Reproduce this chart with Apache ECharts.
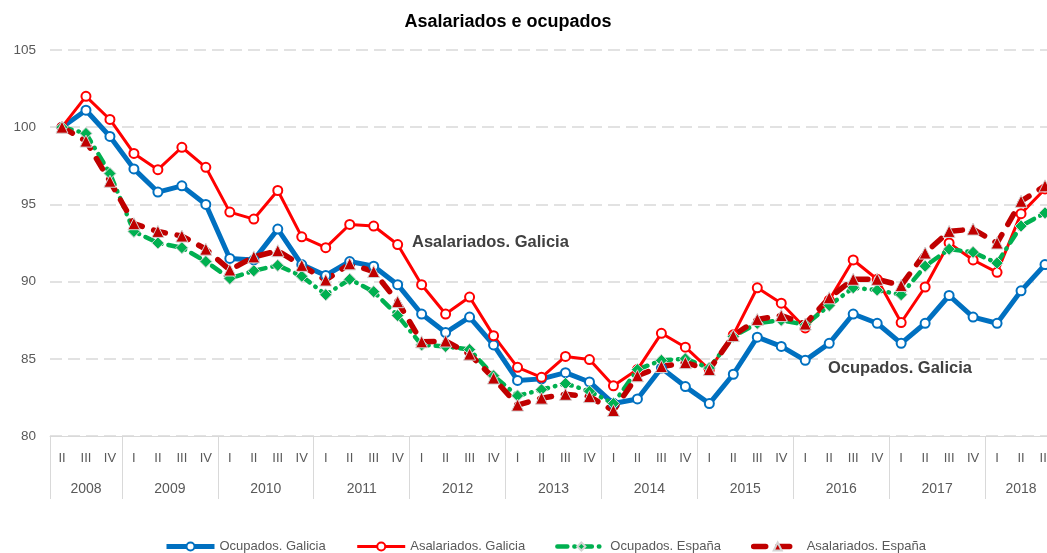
<!DOCTYPE html>
<html>
<head>
<meta charset="utf-8">
<script src="https://cdn.jsdelivr.net/npm/echarts@6/dist/echarts.min.js"></script>
<style>
html,body{margin:0;padding:0;background:#fff;}
#chart{width:1047px;height:553px;}
</style>
</head>
<body>
<div id="chart"></div>
<script>
// ---- Data ----
const quarters = ['II','III','IV',
  'I','II','III','IV', 'I','II','III','IV', 'I','II','III','IV',
  'I','II','III','IV', 'I','II','III','IV', 'I','II','III','IV',
  'I','II','III','IV', 'I','II','III','IV', 'I','II','III','IV',
  'I','II','III'];
const years = ['2008','2009','2010','2011','2012','2013','2014','2015','2016','2017','2018'];

const ocupadosGalicia = [100, 101.1, 99.4, 97.3, 95.8, 96.2, 95.0, 91.5, 91.4, 93.4, 91.1, 90.4, 91.3, 91.0, 89.8, 87.9, 86.7, 87.7, 85.9, 83.6, 83.7, 84.1, 83.5, 82.1, 82.4, 84.4, 83.2, 82.1, 84.0, 86.4, 85.8, 84.9, 86.0, 87.9, 87.3, 86.0, 87.3, 89.1, 87.7, 87.3, 89.4, 91.1];
const asalariadosGalicia = [100, 102.0, 100.5, 98.3, 97.25, 98.7, 97.4, 94.5, 94.05, 95.9, 92.9, 92.2, 93.7, 93.6, 92.4, 89.8, 87.9, 89.0, 86.5, 84.45, 83.8, 85.15, 84.95, 83.25, 84.3, 86.65, 85.75, 84.3, 86.55, 89.6, 88.6, 87.0, 88.8, 91.4, 90.15, 87.35, 89.65, 92.5, 91.4, 90.6, 94.4, 96.0];
const ocupadosEspana = [100, 99.6, 97.0, 93.25, 92.5, 92.2, 91.3, 90.2, 90.7, 91.05, 90.35, 89.15, 90.15, 89.35, 87.8, 85.9, 85.8, 85.6, 83.9, 82.6, 83.0, 83.4, 82.9, 82.1, 84.3, 84.9, 85.0, 84.4, 86.45, 87.3, 87.5, 87.2, 88.45, 89.6, 89.45, 89.15, 91.0, 92.1, 91.9, 91.2, 93.6, 94.45];
const asalariadosEspana = [100, 99.1, 96.5, 93.75, 93.25, 92.95, 92.1, 90.75, 91.6, 92.0, 91.05, 90.1, 91.15, 90.65, 88.7, 86.1, 86.15, 85.3, 83.75, 82.0, 82.45, 82.7, 82.55, 81.65, 83.9, 84.5, 84.75, 84.3, 86.5, 87.55, 87.8, 87.25, 88.95, 90.15, 90.15, 89.75, 91.85, 93.25, 93.4, 92.5, 95.2, 96.2];

const seriesNames = ['Ocupados. Galicia', 'Asalariados. Galicia', 'Ocupados. España', 'Asalariados. España'];
const yTicks = [80, 85, 90, 95, 100, 105];
const titleText = 'Asalariados e ocupados';

// ---- Year groups from quarter labels ----
const groupStarts = [0];
quarters.forEach((q, i) => { if (q === 'I' && i > 0) groupStarts.push(i); });
const boundaries = groupStarts.map(s => s - 0.5).concat([quarters.length - 0.5]);
const centers = [];
const centerYear = {};
for (let g = 0; g < groupStarts.length; g++) {
  const a = boundaries[g], b = boundaries[g + 1];
  const c = (a + b) / 2;
  centers.push(c);
  centerYear[c] = years[g];
}

const FONT = '"Liberation Sans", Arial, sans-serif';
const styles = [
  {symbol: 'circle', size: 9, line: {color: '#0070C0', width: 5}, item: {color: '#ffffff', borderColor: '#0070C0', borderWidth: 2}},
  {symbol: 'circle', size: 9, line: {color: '#FF0000', width: 3}, item: {color: '#ffffff', borderColor: '#FF0000', borderWidth: 2}},
  {symbol: 'diamond', size: 12, line: {color: '#00B050', width: 4.5, type: [10, 7, 0.5, 7], cap: 'round'}, item: {color: '#00B050', borderColor: '#d4d4d4', borderWidth: 1}},
  {symbol: 'triangle', size: 12, line: {color: '#C00000', width: 5.5, type: [12, 12], cap: 'round'}, item: {color: '#C00000', borderColor: '#d4d4d4', borderWidth: 1}}
];
const seriesData = [ocupadosGalicia, asalariadosGalicia, ocupadosEspana, asalariadosEspana];

const chart = echarts.init(document.getElementById('chart'), null, {renderer: 'canvas'});

chart.setOption({
  animation: false,
  backgroundColor: '#fff',
  title: {
    text: titleText,
    left: 503, top: 8, textAlign: 'center',
    textStyle: {fontFamily: FONT, fontSize: 18, fontWeight: 'bold', color: '#000'}
  },
  legend: {
    data: seriesNames.map((n, k) => ({name: n, lineStyle: {width: styles[k].line.width}})),
    left: 159, top: 535,
    itemWidth: 48, itemHeight: 10, itemGap: 30,
    textStyle: {fontFamily: FONT, fontSize: 13, color: '#595959'}
  },
  grid: {left: 50, top: 50, right: -10, bottom: 117, containLabel: false, outerBoundsMode: 'none'},
  xAxis: [{
    type: 'category',
    data: quarters,
    boundaryGap: true,
    axisLine: {show: true, lineStyle: {color: '#d9d9d9', width: 1}},
    axisTick: {show: false},
    axisLabel: {interval: 0, margin: 16, fontFamily: FONT, fontSize: 13, color: '#595959'},
    splitLine: {show: false}
  }, {
    type: 'value',
    position: 'bottom',
    min: -0.5, max: quarters.length - 0.5,
    axisLine: {show: false},
    axisTick: {show: true, customValues: boundaries, length: 63, lineStyle: {color: '#d9d9d9', width: 1}},
    axisLabel: {show: true, customValues: centers, margin: 46, fontFamily: FONT, fontSize: 14, color: '#595959',
      formatter: v => centerYear[v] || ''},
    splitLine: {show: false}
  }],
  yAxis: {
    type: 'value',
    min: yTicks[0], max: yTicks[yTicks.length - 1], interval: 5,
    axisLine: {show: false},
    axisTick: {show: false},
    axisLabel: {margin: 14, fontFamily: FONT, fontSize: 13.5, color: '#595959'},
    splitLine: {show: true, lineStyle: {color: '#d9d9d9', width: 1.5, type: [12, 6]}}
  },
  graphic: [
    {type: 'text', left: 412, top: 234, style: {text: 'Asalariados. Galicia', font: 'bold 16.5px ' + FONT, fill: '#404040'}},
    {type: 'text', left: 828, top: 360, style: {text: 'Ocupados. Galicia', font: 'bold 16.5px ' + FONT, fill: '#404040'}}
  ],
  series: seriesData.map((d, k) => ({
    name: seriesNames[k], type: 'line', data: d,
    symbol: styles[k].symbol, symbolSize: styles[k].size, showAllSymbol: true,
    lineStyle: styles[k].line,
    itemStyle: styles[k].item,
    emphasis: {disabled: true}
  }))
});
</script>
</body>
</html>
